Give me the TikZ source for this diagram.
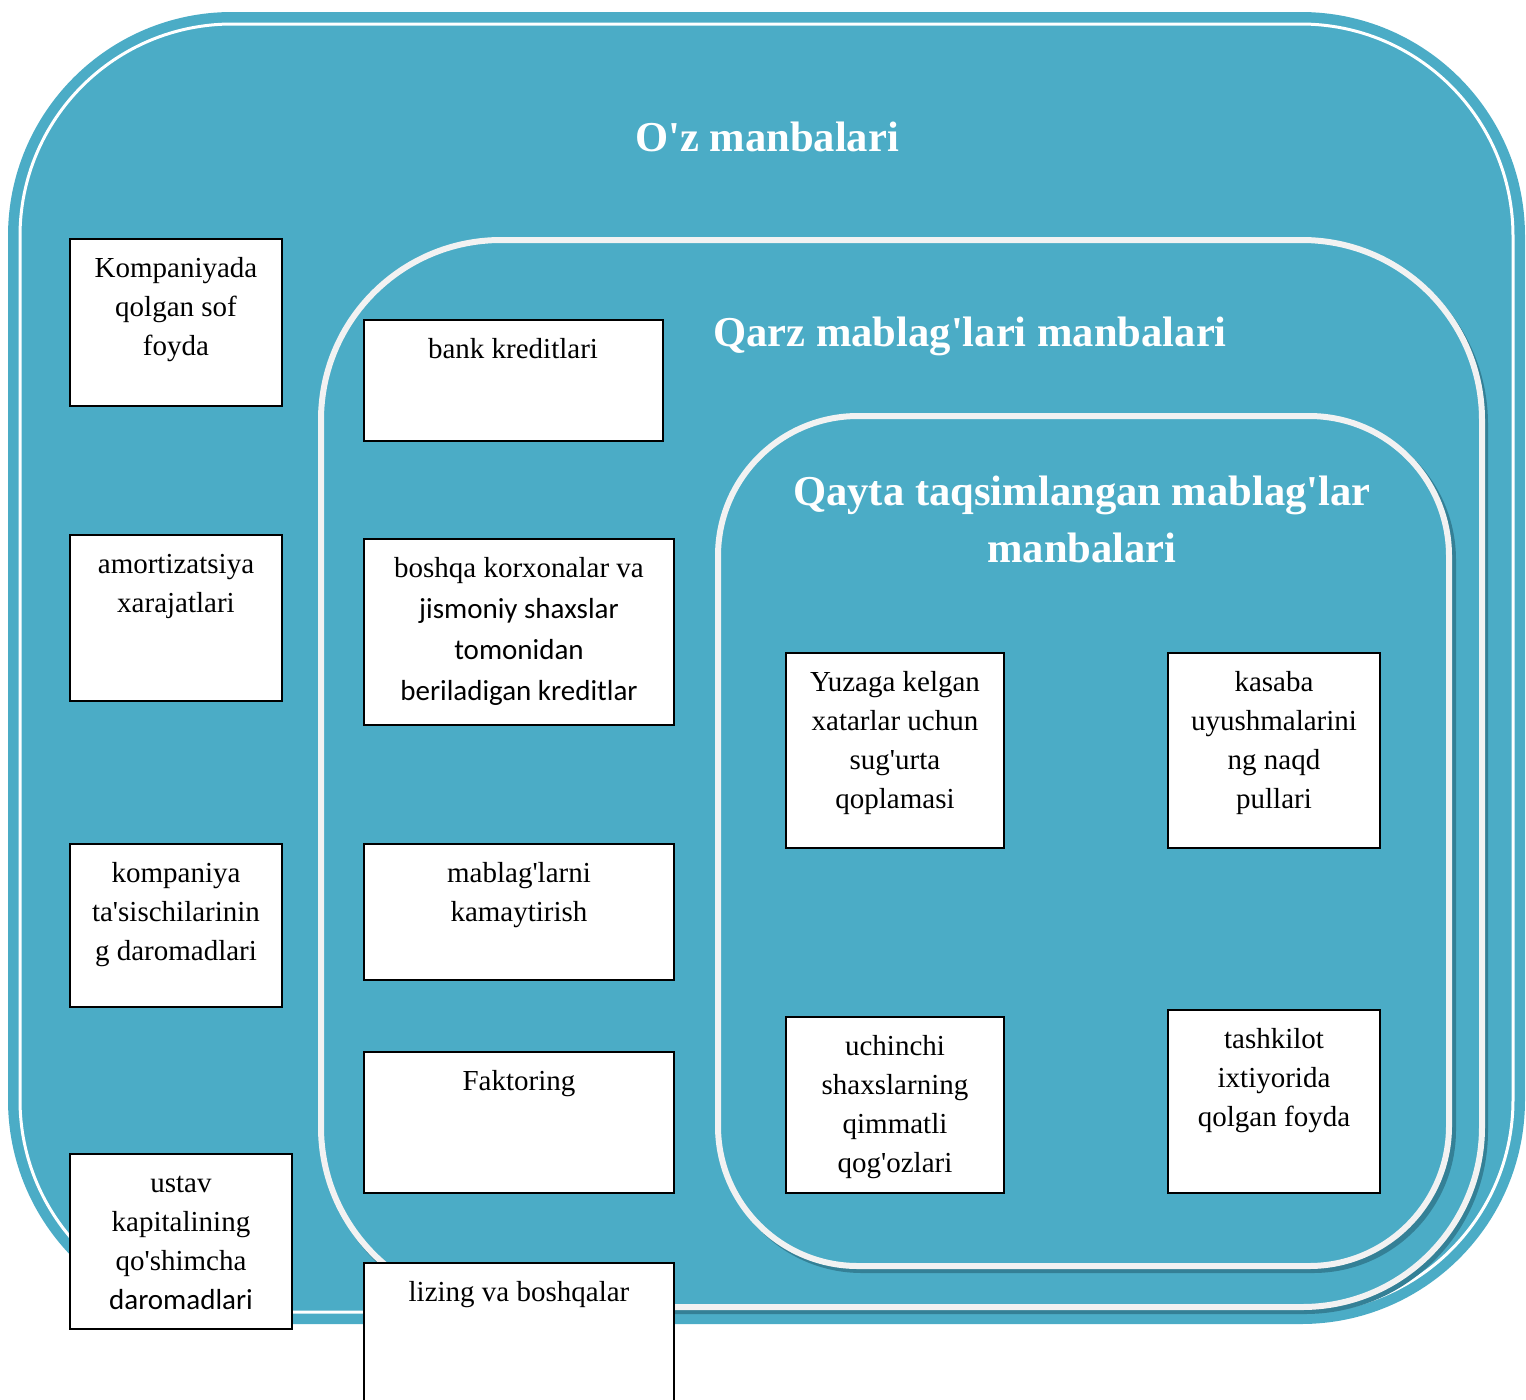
\documentclass[tikz,border=0pt]{standalone}
\usepackage{fontspec}
\setmainfont{Liberation Serif}[Ligatures=TeXOff]
\newfontfamily\carlito{Carlito}
\definecolor{oceanblue}{RGB}{75,172,198}
\definecolor{shadowteal}{RGB}{52,128,150}
\definecolor{paleline}{RGB}{242,242,242}
\tikzset{
  srcbox/.style={draw=black, line width=1pt, fill=white},
  srctext/.style={anchor=base, align=center, inner sep=0pt, font=\fontsize{14.5}{19.5}\selectfont},
  zonetitle/.style={text=white, align=center, inner sep=0pt, font=\fontsize{21.3}{28.5}\selectfont\bfseries},
  zoneline/.style={draw=paleline, fill=oceanblue, line width=3pt},
  zoneshadow/.style={draw=shadowteal, line width=3pt}
}
\begin{document}
\begin{tikzpicture}[x=0.5pt, y=-0.5pt]
  \useasboundingbox (0,0) rectangle (1526,1399);
  % outer zone
  \fill[oceanblue, rounded corners=112pt] (8,12) rectangle (1525,1324);
  \draw[white, line width=1.5pt, rounded corners=106pt] (20,24) rectangle (1513,1312);
  \node[zonetitle] (oztitle) at (767,137) {O'z manbalari};
  % borrowed funds
  \draw[zoneshadow, rounded corners=90pt] (324,244) rectangle (1485,1311);
  \draw[zoneline, rounded corners=90pt] (321,240) rectangle (1482,1307);
  \node[zonetitle, anchor=base] (qarztitle) at (970,346) {Qarz mablag'lari manbalari};
  % redistributed funds (base = last line)
  \draw[zoneshadow, rounded corners=70pt] (722,420) rectangle (1453,1270);
  \draw[zoneline, rounded corners=70pt] (718,416) rectangle (1449,1266);
  \node[zonetitle, anchor=base] (qaytatitle) at (1082,562) {Qayta taqsimlangan mablag'lar\\manbalari};

  % own sources (text base = last line)
  \draw[srcbox] (70,239) rectangle (282,406);
  \node[srctext] (sofFoyda) at (176,355) {Kompaniyada\\qolgan sof\\foyda};
  \draw[srcbox] (70,535) rectangle (282,701);
  \node[srctext] (amort) at (176,612) {amortizatsiya\\xarajatlari};
  \draw[srcbox] (70,844) rectangle (282,1007);
  \node[srctext] (tasis) at (176,960) {kompaniya\\ta'sischilarinin\\g daromadlari};
  \draw[srcbox] (70,1154) rectangle (292,1329);
  \node[srctext] (ustav) at (181,1309) {ustav\\kapitalining\\qo'shimcha\\{\carlito daromadlari}};

  % borrowed sources
  \draw[srcbox] (364,320) rectangle (663,441);
  \node[srctext] (bank) at (513,358) {bank kreditlari};
  \draw[srcbox] (364,539) rectangle (674,725);
  \node[srctext, font=\fontsize{14.5}{20.5}\selectfont] (boshqa) at (519,700)
    {boshqa korxonalar va\\{\carlito jismoniy shaxslar}\\{\carlito tomonidan}\\{\carlito beriladigan kreditlar}};
  \draw[srcbox] (364,844) rectangle (674,980);
  \node[srctext] (kamay) at (519,921) {mablag'larni\\kamaytirish};
  \draw[srcbox] (364,1052) rectangle (674,1193);
  \node[srctext] (faktor) at (519,1090) {Faktoring};
  \draw[srcbox] (364,1263) rectangle (674,1420);
  \node[srctext] (lizing) at (519,1301) {lizing va boshqalar};

  % redistributed sources
  \draw[srcbox] (786,653) rectangle (1004,848);
  \node[srctext] (sugurta) at (895,808) {Yuzaga kelgan\\xatarlar uchun\\sug'urta\\qoplamasi};
  \draw[srcbox] (1168,653) rectangle (1380,848);
  \node[srctext] (kasaba) at (1274,808) {kasaba\\uyushmalarini\\ng naqd\\pullari};
  \draw[srcbox] (786,1017) rectangle (1004,1193);
  \node[srctext] (qogoz) at (895,1172) {uchinchi\\shaxslarning\\qimmatli\\qog'ozlari};
  \draw[srcbox] (1168,1010) rectangle (1380,1193);
  \node[srctext] (ixtiyor) at (1274,1126) {tashkilot\\ixtiyorida\\qolgan foyda};
\end{tikzpicture}
\end{document}
